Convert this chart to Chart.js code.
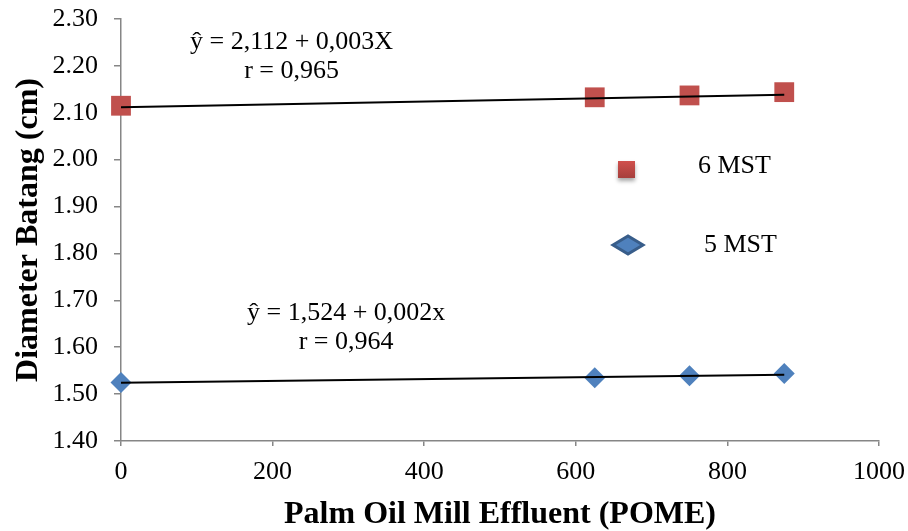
<!DOCTYPE html>
<html>
<head>
<meta charset="utf-8">
<script src="https://cdn.jsdelivr.net/npm/chart.js@4/dist/chart.umd.min.js"></script>
<style>
  html, body { margin: 0; padding: 0; background: #fff; }
  #wrap { width: 908px; height: 531px; }
</style>
</head>
<body>
<div id="wrap"><canvas id="c" width="908" height="531"></canvas></div>
<script>
// POME dose levels and mean stem diameter (cm) per observation week
const pomeDose = [0, 625, 750, 875];
const diameter6MST = [2.115, 2.133, 2.137, 2.144];
const diameter5MST = [1.525, 1.535, 1.539, 1.544];
const seriesNames = ['6 MST', '5 MST'];

// Regression fits (slope expressed per 100 units of POME)
const fitIntercept = [2.112, 1.524];
const fitSlope = [0.003, 0.002];
const fitText6 = ['ŷ = 2,112 + 0,003X', 'r = 0,965'];
const fitText5 = ['ŷ = 1,524 + 0,002x', 'r = 0,964'];

// Axis ticks
const xTickLabels = ['0', '200', '400', '600', '800', '1000'];
const yTickLabels = ['1.40', '1.50', '1.60', '1.70', '1.80', '1.90', '2.00', '2.10', '2.20', '2.30'];

const FONT = 'Liberation Serif, Times New Roman, serif';
const AXIS_GREY = '#868686';
const RED = '#C0504D';
const BLUE = '#4F81BD';

function fitLine(i) {
  const x0 = Math.min(...pomeDose), x1 = Math.max(...pomeDose);
  return [x0, x1].map(x => ({ x, y: fitIntercept[i] + fitSlope[i] * x / 100 }));
}

// Equation labels, anchored in data space (x, y of first line)
const equationLabels = [
  { lines: fitText6, x: 225, y: 2.251 },
  { lines: fitText5, x: 297, y: 1.673 }
];

const textPlugin = {
  id: 'textPlugin',
  afterDatasetsDraw(chart) {
    const { ctx, scales: { x, y } } = chart;
    ctx.save();
    ctx.fillStyle = '#000';
    ctx.font = '26px ' + FONT;
    ctx.textAlign = 'center';
    ctx.textBaseline = 'middle';
    equationLabels.forEach(lbl => {
      const px = x.getPixelForValue(lbl.x);
      const py = y.getPixelForValue(lbl.y);
      lbl.lines.forEach((t, k) => ctx.fillText(t, px, py + k * 29));
    });

    // legend inside the plot area
    const lx = 626, ly6 = 169, ly5 = 245;
    ctx.save();
    ctx.shadowColor = 'rgba(0,0,0,0.35)';
    ctx.shadowBlur = 4;
    ctx.shadowOffsetY = 3;
    const g = ctx.createLinearGradient(0, ly6 - 8, 0, ly6 + 8);
    g.addColorStop(0, '#D0504D');
    g.addColorStop(1, '#A8403D');
    ctx.fillStyle = g;
    ctx.fillRect(lx - 8, ly6 - 8, 17, 17);
    ctx.restore();

    ctx.beginPath();
    ctx.moveTo(lx + 2 - 15, ly5);
    ctx.lineTo(lx + 2, ly5 - 9);
    ctx.lineTo(lx + 2 + 15, ly5);
    ctx.lineTo(lx + 2, ly5 + 9);
    ctx.closePath();
    ctx.fillStyle = BLUE;
    ctx.fill();
    ctx.lineWidth = 3;
    ctx.strokeStyle = '#385D8A';
    ctx.stroke();

    ctx.fillStyle = '#000';
    ctx.textAlign = 'left';
    ctx.font = '26px ' + FONT;
    ctx.fillText(seriesNames[0], 698, ly6 - 3);
    ctx.fillText(seriesNames[1], 704, ly5);
    ctx.restore();
  }
};

new Chart(document.getElementById('c'), {
  type: 'scatter',
  data: {
    datasets: [
      {
        label: seriesNames[0] + ' fit',
        type: 'line',
        data: fitLine(0),
        borderColor: '#000',
        borderWidth: 2,
        pointRadius: 0,
        fill: false,
        clip: false,
        order: 0
      },
      {
        label: seriesNames[1] + ' fit',
        type: 'line',
        data: fitLine(1),
        borderColor: '#000',
        borderWidth: 2,
        pointRadius: 0,
        fill: false,
        clip: false,
        order: 0
      },
      {
        label: seriesNames[0],
        data: pomeDose.map((x, i) => ({ x, y: diameter6MST[i] })),
        pointStyle: 'rect',
        pointRadius: 14,
        backgroundColor: RED,
        borderColor: RED,
        borderWidth: 0,
        clip: false,
        order: 1
      },
      {
        label: seriesNames[1],
        data: pomeDose.map((x, i) => ({ x, y: diameter5MST[i] })),
        pointStyle: 'rectRot',
        pointRadius: 10.5,
        backgroundColor: BLUE,
        borderColor: BLUE,
        borderWidth: 0,
        clip: false,
        order: 1
      }
    ]
  },
  options: {
    responsive: false,
    animation: false,
    devicePixelRatio: 1,
    layout: { padding: { top: 19, right: 29, left: 0, bottom: 0 } },
    plugins: {
      legend: { display: false },
      tooltip: { enabled: false }
    },
    scales: {
      x: {
        type: 'linear',
        min: +xTickLabels[0],
        max: +xTickLabels[xTickLabels.length - 1],
        afterBuildTicks: s => { s.ticks = xTickLabels.map(t => ({ value: +t })); },
        afterFit: s => {
          s.height = 90;
          s.paddingLeft = 0; s.paddingRight = 0;
        },
        ticks: {
          callback: (v, i) => xTickLabels[i],
          font: { family: FONT, size: 26 },
          color: '#000',
          padding: 11,
          maxRotation: 0
        },
        grid: {
          display: true,
          drawOnChartArea: false,
          drawTicks: true,
          tickLength: 5,
          color: AXIS_GREY,
          lineWidth: 1.5
        },
        border: { display: true, color: AXIS_GREY, width: 1.5 },
        title: {
          display: true,
          text: 'Palm Oil Mill Effluent (POME)',
          font: { family: FONT, size: 32, weight: 'bold', lineHeight: 1 },
          color: '#000',
          padding: { top: 0, bottom: 0 }
        }
      },
      y: {
        type: 'linear',
        min: +yTickLabels[0],
        max: +yTickLabels[yTickLabels.length - 1],
        afterBuildTicks: s => { s.ticks = yTickLabels.map(t => ({ value: +t })); },
        afterFit: s => {
          s.width = 121;
          s.paddingTop = 0; s.paddingBottom = 0;
        },
        ticks: {
          callback: (v, i) => yTickLabels[i],
          font: { family: FONT, size: 26 },
          color: '#000',
          padding: 16
        },
        grid: {
          display: true,
          drawOnChartArea: false,
          drawTicks: true,
          tickLength: 7,
          color: AXIS_GREY,
          lineWidth: 1.5
        },
        border: { display: true, color: AXIS_GREY, width: 1.5 },
        title: {
          display: true,
          text: 'Diameter Batang (cm)',
          font: { family: FONT, size: 32, weight: 'bold', lineHeight: 1 },
          color: '#000',
          padding: { top: 13, bottom: 0 }
        }
      }
    }
  },
  plugins: [textPlugin]
});
</script>
</body>
</html>
